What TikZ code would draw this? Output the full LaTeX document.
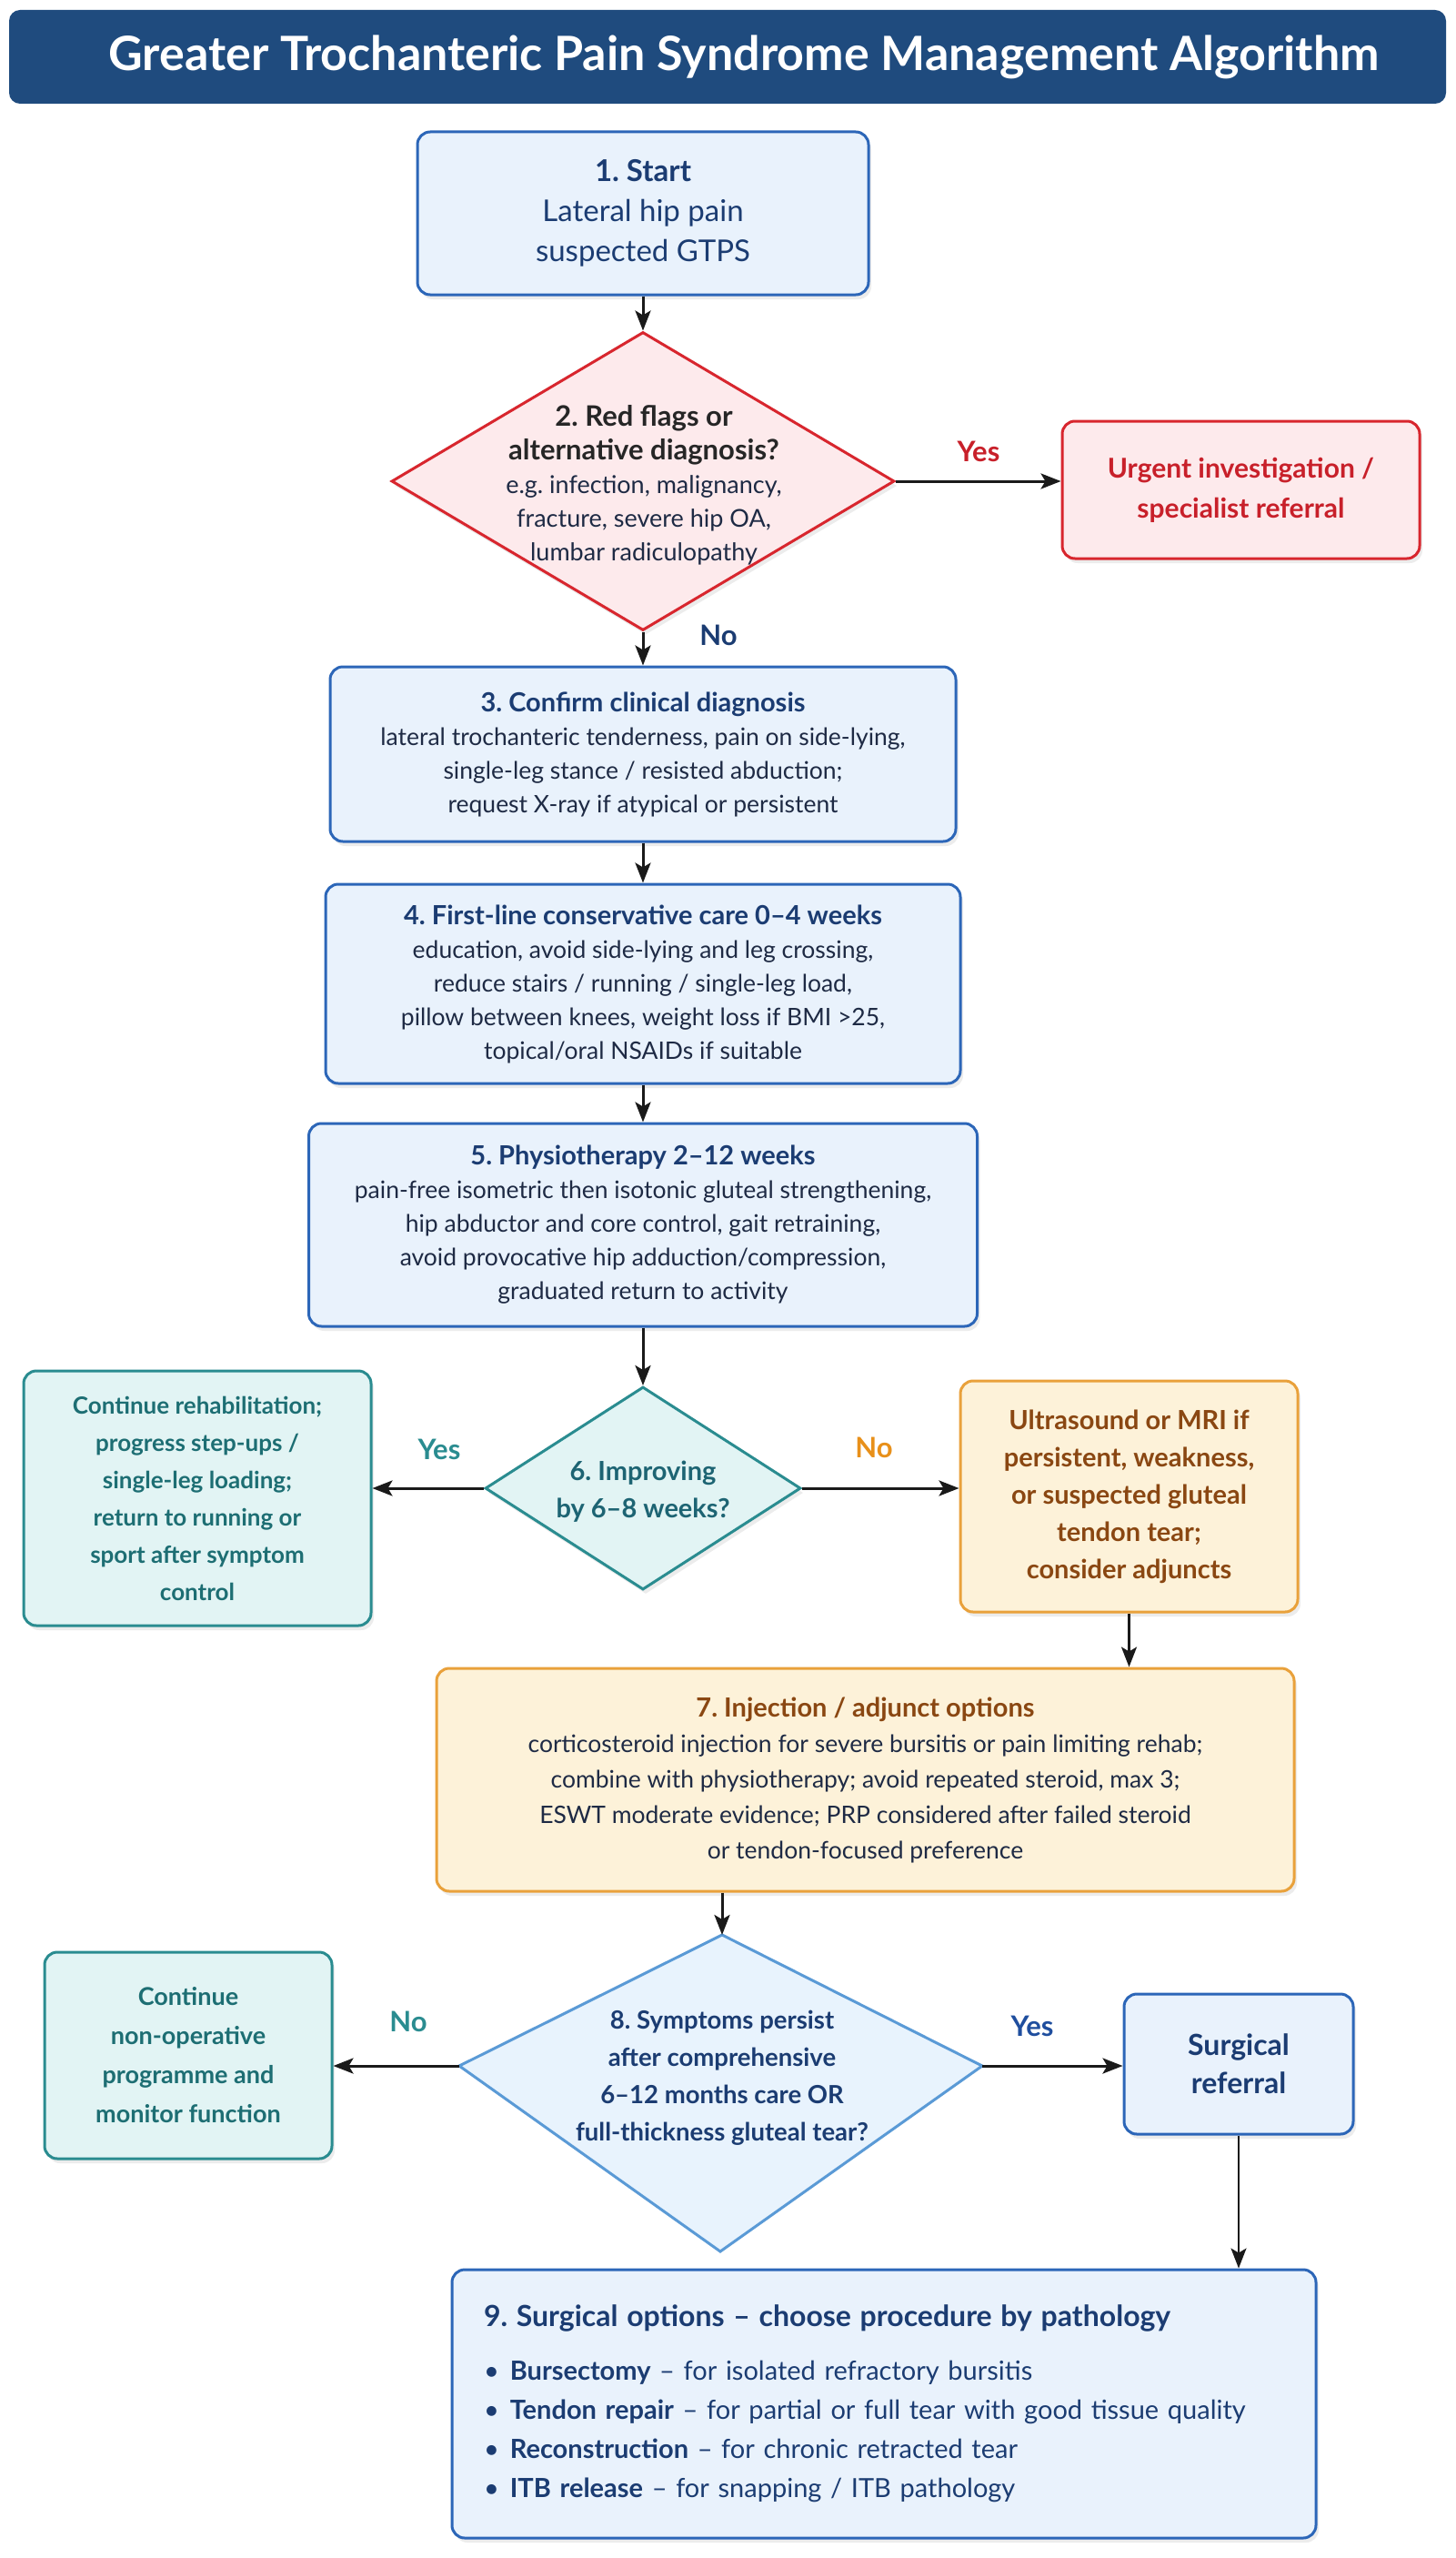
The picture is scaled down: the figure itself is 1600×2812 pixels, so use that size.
\documentclass[tikz,border=0pt]{standalone}
\usepackage{fontspec}
\setmainfont{Lato}
\usetikzlibrary{shapes.geometric,arrows.meta,positioning,calc,shadows}

\definecolor{bannerblue}{HTML}{1F4B7E}
\definecolor{navy}{HTML}{1B3C72}
\definecolor{bodytxt}{HTML}{1E2A44}
\definecolor{bluebd}{HTML}{2C66B8}
\definecolor{bluefill}{HTML}{E9F2FC}
\definecolor{redbd}{HTML}{D8262E}
\definecolor{redfill}{HTML}{FDEAEC}
\definecolor{redtxt}{HTML}{C8202A}
\definecolor{tealbd}{HTML}{2A8C90}
\definecolor{tealfill}{HTML}{E2F4F4}
\definecolor{tealtxt}{HTML}{1D6E73}
\definecolor{ambbd}{HTML}{E9A13B}
\definecolor{ambfill}{HTML}{FDF2D9}
\definecolor{browntxt}{HTML}{8A4712}
\definecolor{kitebd}{HTML}{5A9AD6}
\definecolor{kitefill}{HTML}{E8F3FD}
\definecolor{arrowblk}{HTML}{1A1A1A}
\definecolor{yesblue}{HTML}{1F4E9E}
\definecolor{noorange}{HTML}{E8901A}

\newcommand{\bodyfont}{\fontsize{26.5}{37}\selectfont}
\newcommand{\titlef}[1]{{\fontsize{29}{37}\selectfont\bfseries\color{navy}#1}}

\tikzset{
    shade box/.style={drop shadow={shadow xshift=3pt, shadow yshift=-5pt, opacity=.12, fill=black!60}},
    stepbox/.style={draw=bluebd, fill=bluefill, line width=3pt, rounded corners=14pt,
        align=center, inner sep=8pt, text=bodytxt, font=\bodyfont, shade box},
    alertbox/.style={stepbox, draw=redbd, fill=redfill, text=redtxt,
        font=\fontsize{30}{44}\selectfont\bfseries},
    tealbox/.style={stepbox, draw=tealbd, fill=tealfill, text=tealtxt,
        font=\fontsize{26}{41}\selectfont\bfseries},
    ambbox/.style={stepbox, draw=ambbd, fill=ambfill, text=browntxt,
        font=\fontsize{29}{41}\selectfont\bfseries},
    decision/.style={diamond, line width=3pt, inner sep=0pt, shade box},
    dtext/.style={align=center, inner sep=0pt},
    lbl/.style={font=\fontsize{31}{32}\selectfont\bfseries, inner sep=0pt},
    arr/.style={draw=arrowblk, line width=3pt, -{Stealth[length=22pt, width=17pt, inset=5pt]}},
    banner/.style={fill=bannerblue, rounded corners=12pt, text=white,
        minimum width=1580pt, minimum height=103pt, font=\fontsize{52}{56}\selectfont\bfseries},
}

\begin{document}
\frenchspacing
\begin{tikzpicture}[x=1pt,y=-1pt]
    \useasboundingbox[fill=white] (0,0) rectangle (1600,2812);

    % Title banner
    \node[banner] (title) at (800,62.5) {\hspace*{36pt}Greater Trochanteric Pain Syndrome Management Algorithm};

    % Main column
    \node[stepbox, minimum width=496pt, minimum height=179pt, text=navy, font=\fontsize{33}{44}\selectfont] (start) at (707,234.5)
        {\textbf{1. Start}\\Lateral hip pain\\suspected GTPS};

    \node[decision, draw=redbd, fill=redfill, minimum width=553pt, minimum height=328pt] (redflag) at (707,529) {};
    \node[dtext, font=\fontsize{27}{37}\selectfont, text=bodytxt] (redflagtxt) at (708,533)
        {{\fontsize{31}{41}\selectfont\bfseries\color{black!85}2. Red flags or}\\
         {\fontsize{31}{41}\selectfont\bfseries\color{black!85}alternative diagnosis?}\\
         e.g. infection, malignancy,\\fracture, severe hip OA,\\lumbar radiculopathy};

    \node[alertbox, minimum width=393pt, minimum height=151pt] (urgent) at (1364.5,538.5)
        {Urgent investigation /\\specialist referral};

    \node[stepbox, minimum width=688pt, minimum height=192pt] (confirm) at (707,829)
        {\titlef{3. Confirm clinical diagnosis}\\
         lateral trochanteric tenderness, pain on side-lying,\\
         single-leg stance / resisted abduction;\\
         request X-ray if atypical or persistent};

    \node[stepbox, minimum width=698pt, minimum height=219pt] (firstline) at (707,1081.5)
        {\titlef{4. First-line conservative care 0–4 weeks}\\
         education, avoid side-lying and leg crossing,\\
         reduce stairs / running / single-leg load,\\
         pillow between knees, weight loss if BMI >25,\\
         topical/oral NSAIDs if suitable};

    \node[stepbox, minimum width=735pt, minimum height=223pt] (physio) at (707,1346.5)
        {\titlef{5. Physiotherapy 2–12 weeks}\\
         pain-free isometric then isotonic gluteal strengthening,\\
         hip abductor and core control, gait retraining,\\
         avoid provocative hip adduction/compression,\\
         graduated return to activity};

    % Decision 6 and its branches
    \node[decision, draw=tealbd, fill=tealfill, minimum width=347pt, minimum height=223pt] (improving) at (707,1636) {};
    \node[dtext, font=\fontsize{29}{41}\selectfont\bfseries, text=tealtxt!80!navy] (improvingtxt) at (707,1640)
        {6. Improving\\by 6–8 weeks?};

    \node[tealbox, minimum width=382pt, minimum height=280pt] (rehab) at (217,1647)
        {Continue rehabilitation;\\progress step-ups /\\single-leg loading;\\return to running or\\sport after symptom\\control};

    \node[ambbox, minimum width=371pt, minimum height=254pt] (imaging) at (1241.5,1645)
        {Ultrasound or MRI if\\persistent, weakness,\\or suspected gluteal\\tendon tear;\\consider adjuncts};

    \node[ambbox, minimum width=943pt, minimum height=245pt, text=bodytxt, font=\fontsize{26.5}{39}\selectfont\mdseries] (injection) at (951.5,1956.5)
        {{\fontsize{29}{39}\selectfont\bfseries\color{browntxt}7. Injection / adjunct options}\\
         corticosteroid injection for severe bursitis or pain limiting rehab;\\
         combine with physiotherapy; avoid repeated steroid, max 3;\\
         ESWT moderate evidence; PRP considered after failed steroid\\
         or tendon-focused preference};

    % Decision 8 (kite shaped) and its branches
    \coordinate (p8t) at (794,2127);
    \coordinate (p8r) at (1080,2271);
    \coordinate (p8b) at (792,2475);
    \coordinate (p8l) at (505,2271);
    \draw[draw=kitebd, fill=kitefill, line width=3pt, line join=miter] (p8t) -- (p8r) -- (p8b) -- (p8l) -- cycle;
    \node[dtext, font=\fontsize{27.5}{41}\selectfont\bfseries, text=navy] (persist) at (794,2284)
        {8. Symptoms persist\\after comprehensive\\6–12 months care OR\\full-thickness gluteal tear?};

    \node[tealbox, minimum width=316pt, minimum height=227pt, font=\fontsize{27}{43}\selectfont\bfseries] (nonop) at (207,2259.5)
        {Continue\\non-operative\\programme and\\monitor function};

    \node[stepbox, minimum width=252pt, minimum height=154pt, text=navy, font=\fontsize{32}{42}\selectfont\bfseries] (referral) at (1362,2269)
        {Surgical\\referral};

    \node[stepbox, minimum width=950pt, minimum height=295pt, text width=880pt, inner xsep=35pt, align=left, text=navy,
          font=\fontsize{29}{43}\selectfont] (surgery) at (972,2642.5)
        {{\fontsize{32}{37}\selectfont\bfseries 9. Surgical options – choose procedure by pathology}\\[16pt]
         \textbullet\hspace{12pt}\textbf{Bursectomy} – for isolated refractory bursitis\\
         \textbullet\hspace{12pt}\textbf{Tendon repair} – for partial or full tear with good tissue quality\\
         \textbullet\hspace{12pt}\textbf{Reconstruction} – for chronic retracted tear\\
         \textbullet\hspace{12pt}\textbf{ITB release} – for snapping / ITB pathology};

    % Connectors
    \draw[arr] (start) -- (redflag);
    \draw[arr] (redflag.east) -- (redflag.east -| urgent.west);
    \draw[arr] (redflag) -- (confirm);
    \draw[arr] (confirm) -- (firstline);
    \draw[arr] (firstline) -- (physio);
    \draw[arr] (physio) -- (improving);
    \draw[arr] (improving.west) -- (improving.west -| rehab.east);
    \draw[arr] (improving.east) -- (improving.east -| imaging.west);
    \draw[arr, line width=2.5pt] (imaging) -- (imaging |- injection.north);
    \draw[arr] (p8t |- injection.south) -- (p8t);
    \draw[arr] (p8l) -- (p8l -| nonop.east);
    \draw[arr] (p8r) -- (p8r -| referral.west);
    \draw[arr, line width=2pt] (referral) -- (referral |- surgery.north);

    % Branch labels
    \node[lbl, text=redtxt] (yes2) at (1076,496) {Yes};
    \node[lbl, text=navy] (no2) at (790,698) {No};
    \node[lbl, text=tealbd] (yes6) at (483,1593) {Yes};
    \node[lbl, text=noorange] (no6) at (961,1591) {No};
    \node[lbl, text=tealbd] (no8) at (449,2222) {No};
    \node[lbl, text=yesblue] (yes8) at (1135,2227) {Yes};
\end{tikzpicture}
\end{document}
